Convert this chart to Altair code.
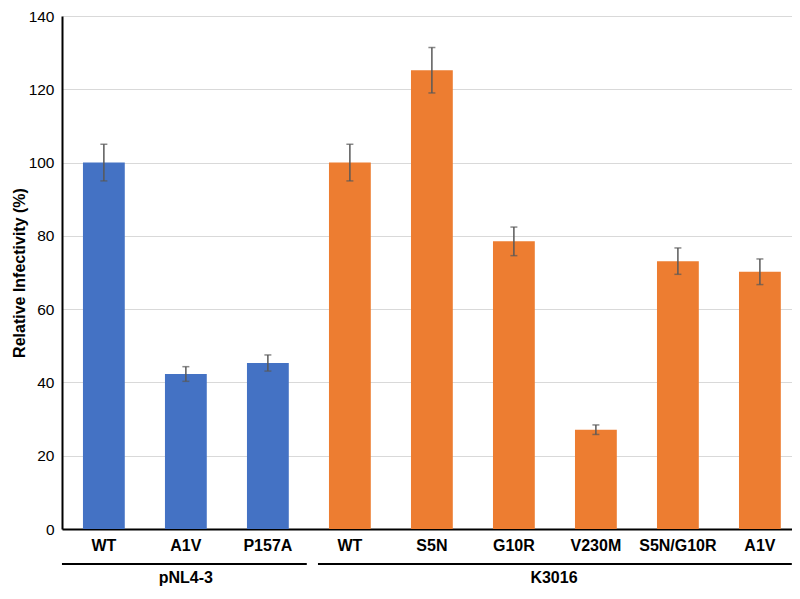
import altair as alt
import pandas as pd

groups = ["pNL4-3", "pNL4-3", "pNL4-3", "K3016", "K3016", "K3016", "K3016", "K3016", "K3016"]
mutants = ["WT", "A1V", "P157A", "WT", "S5N", "G10R", "V230M", "S5N/G10R", "A1V"]
values = [100.0, 42.3, 45.3, 100.0, 125.2, 78.5, 27.1, 73.1, 70.2]
errors = [5.0, 2.0, 2.2, 5.0, 6.2, 3.9, 1.3, 3.6, 3.5]
y_ticks = [0, 20, 40, 60, 80, 100, 120, 140]

group_names = ["pNL4-3", "K3016"]
group_colors = ["#4472C4", "#ED7D31"]

ids = [f"{g}|{m}" for g, m in zip(groups, mutants)]
df = pd.DataFrame({
    "id": ids,
    "group": groups,
    "mutant": mutants,
    "value": values,
    "lo": [v - e for v, e in zip(values, errors)],
    "hi": [v + e for v, e in zip(values, errors)],
})

PLOT_W = 730
PLOT_H = 513

x_scale = alt.Scale(domain=ids, paddingInner=0.49, paddingOuter=0.196, align=0.652)
y_scale = alt.Scale(domain=[0, 140], nice=False)

xenc = alt.X("id:N", scale=x_scale, sort=ids, title=None)
yaxis = alt.Axis(values=y_ticks, title="Relative Infectivity (%)")

bars = alt.Chart(df).mark_bar().encode(
    x=xenc,
    y=alt.Y("value:Q", scale=y_scale, axis=yaxis),
    color=alt.Color("group:N", scale=alt.Scale(domain=group_names, range=group_colors), legend=None),
)

err_rule = alt.Chart(df).mark_rule(color="#595959", strokeWidth=1.5).encode(
    x=xenc,
    y=alt.Y("lo:Q", scale=y_scale, axis=yaxis),
    y2="hi:Q",
)
cap_lo = alt.Chart(df).mark_tick(color="#595959", thickness=1.5, size=7, orient="horizontal").encode(
    x=xenc, y=alt.Y("lo:Q", scale=y_scale, axis=yaxis)
)
cap_hi = alt.Chart(df).mark_tick(color="#595959", thickness=1.5, size=7, orient="horizontal").encode(
    x=xenc, y=alt.Y("hi:Q", scale=y_scale, axis=yaxis)
)

g1 = pd.DataFrame({"start": [ids[0]], "end": [ids[2]], "mid": [ids[1]], "name": ["pNL4-3"]})
g2 = pd.DataFrame({"start": [ids[3]], "end": [ids[8]], "mid": [ids[6]], "name": ["K3016"]})

LINE_Y = 548
TEXT_Y = 567

line1 = alt.Chart(g1).mark_rule(color="#000000", strokeWidth=2, xOffset=-21, x2Offset=18).encode(
    x=alt.X("start:N", scale=x_scale, bandPosition=0, title=None),
    x2=alt.X2("end:N", bandPosition=1),
    y=alt.value(LINE_Y),
)
line2 = alt.Chart(g2).mark_rule(color="#000000", strokeWidth=2, xOffset=-11, x2Offset=11).encode(
    x=alt.X("start:N", scale=x_scale, bandPosition=0, title=None),
    x2=alt.X2("end:N", bandPosition=1),
    y=alt.value(LINE_Y),
)
text1 = alt.Chart(g1).mark_text(font="Liberation Sans", fontSize=16, fontWeight="bold", color="#000000", baseline="alphabetic").encode(
    x=alt.X("mid:N", scale=x_scale, bandPosition=0.5, title=None),
    y=alt.value(TEXT_Y),
    text="name:N",
)
text2 = alt.Chart(g2).mark_text(font="Liberation Sans", fontSize=16, fontWeight="bold", color="#000000", baseline="alphabetic", dx=-21).encode(
    x=alt.X("mid:N", scale=x_scale, bandPosition=0, title=None),
    y=alt.value(TEXT_Y),
    text="name:N",
)

chart = alt.layer(bars, err_rule, cap_lo, cap_hi, line1, line2, text1, text2).properties(
    width=PLOT_W,
    height=PLOT_H,
    autosize=alt.AutoSizeParams(type="none"),
    padding={"left": 54, "top": 8, "right": 0, "bottom": 57},
).configure_view(stroke=None).configure_axisX(
    labelExpr="split(datum.label, '|')[1]",
    labelAngle=0,
    labelFont="Liberation Sans",
    labelFontSize=16,
    labelFontWeight="bold",
    labelColor="#000000",
    labelPadding=8,
    domainColor="#000000",
    domainWidth=2,
    ticks=False,
    grid=False,
).configure_axisY(
    labelFont="Liberation Sans",
    labelFontSize=15.5,
    labelColor="#000000",
    labelPadding=8,
    domainColor="#000000",
    domainWidth=2,
    ticks=False,
    gridColor="#d9d9d9",
    gridWidth=1,
    titleFont="Liberation Sans",
    titleFontSize=16,
    titleFontWeight="bold",
    titleColor="#000000",
    titlePadding=1,
)

chart.save("out.html", embed_options={"renderer": "svg", "actions": False})
